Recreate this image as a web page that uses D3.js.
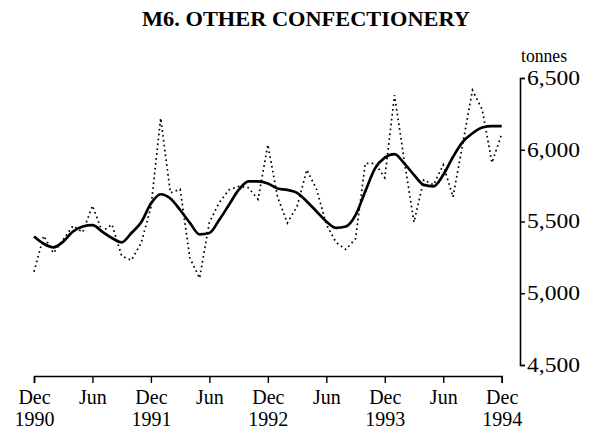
<!DOCTYPE html>
<html>
<head>
<meta charset="utf-8">
<script src="https://cdn.jsdelivr.net/npm/d3@7"></script>
<style>
  html, body { margin: 0; padding: 0; background: #fff; }
  svg { display: block; }
  text { font-family: "Liberation Serif", "Times New Roman", serif; fill: #000; }
</style>
</head>
<body>
<svg id="chart" width="597" height="434"></svg>
<script>
// ---- data ----
const title = "M6. OTHER CONFECTIONERY";
const unitLabel = "tonnes";
// monthly, Dec 1990 .. Dec 1994
const months = d3.timeMonth.range(new Date(1990, 11, 1), new Date(1995, 0, 1)).map(d3.timeFormat("%Y-%m"));
const original = [
  5150, 5400, 5280, 5375, 5470, 5425, 5610, 5430, 5480, 5260, 5230, 5350,
  5600, 6220, 5700, 5725, 5245, 5105, 5495, 5630, 5720, 5745, 5735, 5655,
  6035, 5670, 5490, 5605, 5860, 5725, 5480, 5355, 5305, 5380, 5905, 5905,
  5805, 6380, 5925, 5495, 5790, 5755, 5895, 5670, 6040, 6415, 6280, 5910,
  6110
];
const trend = [
  5395, 5345, 5320, 5360, 5430, 5465, 5475, 5430, 5385, 5355, 5420, 5495,
  5625, 5690, 5660, 5580, 5490, 5410, 5420, 5510, 5615, 5720, 5780, 5780,
  5765, 5730, 5720, 5700, 5640, 5570, 5500, 5455, 5465, 5545, 5710, 5870,
  5945, 5970, 5905, 5825, 5755, 5745, 5825, 5950, 6055, 6115, 6155, 6165,
  6165
];
const xTicks = ["1990-12", "1991-06", "1991-12", "1992-06", "1992-12", "1993-06", "1993-12", "1994-06", "1994-12"];
const xTickMonth = ["Dec", "Jun", "Dec", "Jun", "Dec", "Jun", "Dec", "Jun", "Dec"];
const xTickYear = ["1990", "", "1991", "", "1992", "", "1993", "", "1994"];
const yTicks = [4500, 5000, 5500, 6000, 6500];

// ---- chart ----
const svg = d3.select("#chart");

const x = d3.scalePoint().domain(months).range([34, 501.7]);
const y = d3.scaleLinear().domain([4500, 6500]).range([365, 78]);

// title
svg.append("text")
  .attr("x", 306).attr("y", 26)
  .attr("text-anchor", "middle")
  .attr("textLength", 328)
  .attr("lengthAdjust", "spacingAndGlyphs")
  .style("font-size", "22px").style("font-weight", "bold")
  .text(title);

// unit
svg.append("text")
  .attr("x", 521).attr("y", 62)
  .attr("textLength", 46)
  .attr("lengthAdjust", "spacingAndGlyphs")
  .style("font-size", "19px")
  .text(unitLabel);

// right axis
const yAxis = svg.append("g")
  .attr("transform", "translate(520,0)")
  .call(d3.axisRight(y).tickValues(yTicks).tickSize(5).tickPadding(2).tickFormat(d3.format(",")));
yAxis.select(".domain").attr("stroke", "#000").attr("stroke-width", 1.6);
yAxis.selectAll(".tick line").attr("stroke", "#000").attr("stroke-width", 1.4);
yAxis.selectAll(".tick text")
  .attr("font-family", null)
  .attr("font-size", null)
  .style("font-size", "20px")
  .attr("textLength", 53)
  .attr("lengthAdjust", "spacingAndGlyphs");

// bottom axis
const xAxis = svg.append("g")
  .attr("transform", "translate(0,376)")
  .call(d3.axisBottom(x).tickValues(xTicks).tickSize(7).tickFormat(""));
xAxis.select(".domain").attr("stroke", "#000").attr("stroke-width", 1.6);
xAxis.selectAll(".tick line").attr("stroke", "#000").attr("stroke-width", 1.4);
xAxis.selectAll(".tick text").remove();
xAxis.selectAll(".tick").each(function(d, i) {
  const g = d3.select(this);
  g.append("text").attr("y", 28).attr("text-anchor", "middle")
    .style("font-size", "20px").text(xTickMonth[i]);
  if (xTickYear[i]) {
    g.append("text").attr("y", 50).attr("text-anchor", "middle")
      .style("font-size", "20px").text(xTickYear[i]);
  }
});

// lines
const lineOrig = d3.line()
  .x((d, i) => x(months[i]))
  .y(d => y(d));
const lineTrend = d3.line()
  .x((d, i) => x(months[i]))
  .y(d => y(d))
  .curve(d3.curveMonotoneX);

svg.append("path")
  .datum(original)
  .attr("fill", "none")
  .attr("stroke", "#000")
  .attr("stroke-width", 1.7)
  .attr("stroke-dasharray", "1.7,3.2")
  .attr("d", lineOrig);

svg.append("path")
  .datum(trend)
  .attr("fill", "none")
  .attr("stroke", "#000")
  .attr("stroke-width", 2.7)
  .attr("stroke-linejoin", "round")
  .attr("d", lineTrend);
</script>
</body>
</html>
